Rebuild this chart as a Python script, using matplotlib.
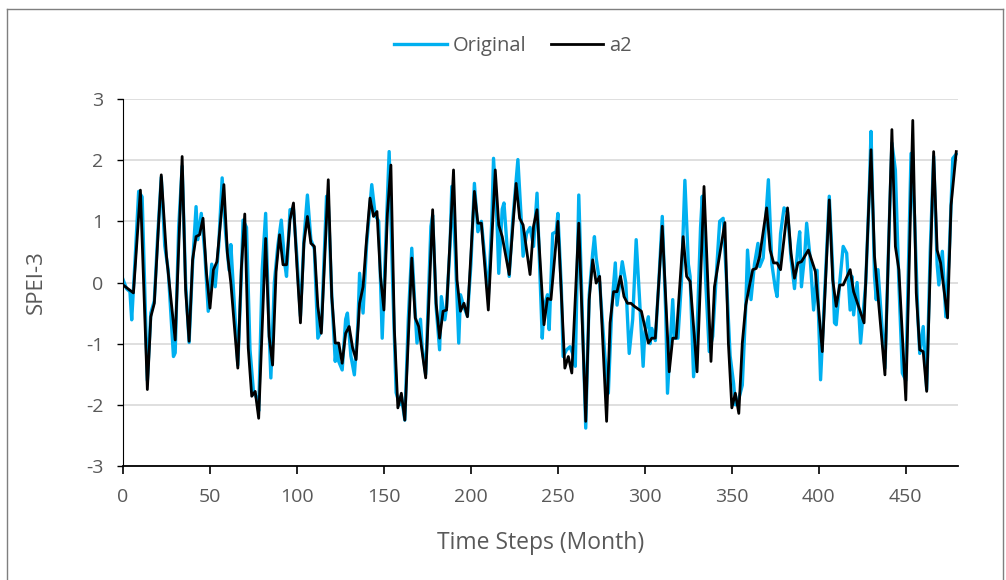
import numpy as np
import matplotlib
matplotlib.use("Agg")
import matplotlib.pyplot as plt
from matplotlib.lines import Line2D

plt.rcParams['font.family'] = ['Open Sans', 'DejaVu Sans']
plt.rcParams['axes.unicode_minus'] = False

# a2 (approximation) series
a2_month = [0, 6, 10, 14, 16, 18, 22, 25, 30, 34, 36, 38, 40, 42, 44, 46, 48, 50, 52, 54,
            58, 60, 62, 66, 68, 70, 72, 74, 76, 78, 82, 84, 86, 88, 90, 92, 94, 96, 98, 100,
            102, 104, 106, 108, 110, 112, 114, 118, 120, 122, 124, 126, 128, 130, 132, 134,
            136, 138, 140, 142, 144, 146, 148, 150, 152, 154, 156, 158, 160, 162, 166, 168,
            170, 174, 178, 180, 182, 184, 186, 190, 192, 194, 196, 198, 202, 204, 206, 210,
            214, 216, 218, 222, 226, 228, 230, 234, 236, 238, 242, 244, 246, 250, 254, 256,
            258, 262, 266, 268, 270, 272, 274, 278, 280, 282, 284, 286, 288, 290, 292, 294,
            298, 302, 304, 306, 310, 314, 316, 318, 322, 324, 326, 330, 334, 338, 340, 346,
            348, 350, 352, 354, 356, 358, 360, 362, 364, 366, 370, 372, 374, 376, 378, 382,
            384, 386, 388, 390, 394, 398, 402, 406, 408, 410, 412, 414, 418, 420, 426, 430,
            432, 438, 442, 444, 446, 450, 454, 456, 458, 460, 462, 466, 468, 470, 474, 476, 479]
a2_value = [-0.04, -0.17, 1.51, -1.75, -0.56, -0.34, 1.76, 0.43, -0.94, 2.06, -0.12, -0.96,
            0.37, 0.75, 0.78, 1.05, 0.15, -0.42, 0.21, 0.34, 1.60, 0.48, -0.01, -1.40, 0.21,
            1.12, -1.07, -1.86, -1.78, -2.22, 0.72, -0.88, -1.35, 0.18, 0.78, 0.29, 0.29, 1.02,
            1.30, 0.26, -0.66, 0.64, 1.08, 0.64, 0.59, -0.39, -0.83, 1.68, -0.23, -0.99, -0.99,
            -1.32, -0.83, -0.72, -1.07, -1.26, -0.34, -0.07, 0.70, 1.38, 1.08, 1.16, 0.10,
            -0.45, 1.13, 1.92, -0.77, -2.05, -1.81, -2.25, 0.40, -0.58, -0.72, -1.56, 1.19,
            -0.34, -0.91, -0.47, -0.45, 1.84, 0.04, -0.47, -0.34, -0.56, 1.49, 0.97, 0.97,
            -0.45, 1.84, 0.94, 0.75, 0.13, 1.62, 1.05, 0.94, 0.13, 0.92, 1.19, -0.69, -0.26,
            -0.28, 1.00, -1.40, -1.21, -1.48, 0.97, -2.27, -0.28, 0.37, -0.01, 0.10, -2.27,
            -0.66, -0.15, -0.15, 0.10, -0.23, -0.34, -0.34, -0.39, -0.47, -0.99, -0.91, -0.91,
            0.92, -1.46, -0.91, -0.91, 0.75, 0.10, 0.02, -1.46, 1.57, -1.29, -0.07, 0.98,
            -0.99, -2.05, -1.81, -2.14, -0.99, -0.37, -0.07, 0.21, 0.23, 0.43, 1.22, 0.53,
            0.32, 0.32, 0.21, 1.22, 0.48, 0.07, 0.32, 0.34, 0.53, 0.18, -1.13, 1.35, 0.04,
            -0.39, -0.04, -0.04, 0.21, -0.15, -0.66, 2.17, 0.43, -1.51, 2.50, 0.59, 0.21,
            -1.92, 2.65, -0.17, -1.10, -1.13, -1.78, 2.14, 0.53, 0.32, -0.58, 1.26, 2.14]

# original SPEI-3 series
orig_month = [0, 2, 4, 5, 7, 9, 11, 14, 16, 18, 20, 22, 24, 26, 29, 30, 32, 34, 36, 38,
              40, 42, 43, 45, 47, 49, 51, 53, 55, 57, 59, 61, 62, 66, 68, 69, 71, 73, 75, 77,
              78, 80, 82, 84, 85, 87, 89, 91, 93, 94, 96, 98, 100, 102, 104, 106, 108, 110,
              112, 114, 117, 118, 120, 122, 123, 124, 126, 128, 129, 131, 133, 135, 136, 138,
              140, 143, 145, 147, 149, 151, 153, 155, 157, 159, 160, 162, 164, 166, 168, 169,
              171, 172, 174, 177, 178, 180, 182, 183, 185, 186, 188, 189, 191, 193, 194, 196,
              198, 200, 202, 204, 206, 208, 210, 212, 213, 215, 216, 218, 219, 221, 222, 224,
              227, 229, 230, 232, 234, 236, 238, 241, 242, 244, 245, 247, 249, 250, 252, 253,
              255, 257, 259, 260, 262, 264, 266, 268, 270, 271, 272, 274, 277, 279, 281, 283,
              284, 286, 287, 289, 291, 293, 295, 297, 299, 300, 302, 303, 304, 306, 308, 310,
              312, 313, 316, 317, 319, 321, 323, 325, 326, 328, 330, 332, 333, 335, 337, 339,
              341, 343, 345, 347, 349, 351, 352, 354, 356, 358, 359, 361, 363, 365, 366, 368,
              371, 373, 375, 376, 378, 380, 382, 384, 386, 388, 389, 390, 392, 393, 395, 397,
              399, 401, 403, 406, 408, 409, 410, 412, 414, 416, 418, 419, 420, 422, 424, 427,
              429, 430, 432, 433, 434, 436, 438, 440, 442, 444, 446, 448, 450, 453, 455, 457,
              458, 460, 462, 464, 466, 468, 469, 471, 473, 475, 477, 479]
orig_value = [0.05, -0.10, -0.15, -0.61, 0.40, 1.49, 1.40, -1.60, -0.50, -0.30, 0.80, 1.72,
              0.60, 0.20, -1.21, -1.15, 0.90, 1.90, 0.00, -0.98, 0.30, 1.24, 0.70, 1.13, 0.50,
              -0.47, 0.30, -0.07, 0.60, 1.71, 0.80, 0.20, 0.62, -1.35, 0.10, 1.02, 0.90, -1.10,
              -1.78, -1.90, -2.10, 0.20, 1.13, -0.80, -1.56, 0.00, 0.60, 1.02, 0.30, 0.10, 1.19,
              1.20, 0.40, -0.55, 0.70, 1.43, 0.70, 0.55, -0.91, -0.78, 1.41, 1.30, -0.20, -1.29,
              -1.00, -1.29, -1.43, -0.60, -0.50, -1.20, -1.51, -0.70, 0.15, -0.50, 0.60, 1.60,
              1.10, 1.00, -0.91, 0.60, 2.14, 0.00, -1.80, -2.00, -1.85, -2.25, -0.60, 0.56,
              -0.50, -0.99, -0.60, -1.07, -1.50, 0.92, 1.10, -0.40, -1.10, -0.23, -0.61, -0.40,
              0.60, 1.57, 0.50, -0.99, -0.20, -0.40, -0.55, 0.30, 1.62, 0.83, 1.00, 0.40, -0.23,
              1.00, 2.03, 1.00, 0.15, 1.20, 1.30, 0.50, 0.10, 1.00, 2.01, 1.00, 0.43, 0.80, 0.90,
              0.59, 1.46, -0.91, -0.40, -0.20, -0.77, 0.80, 0.83, 1.13, -0.10, -1.21, -1.10,
              -1.05, -1.20, -1.37, 1.43, -0.50, -2.38, -0.20, 0.48, 0.75, 0.40, 0.00, -1.20,
              -1.81, -0.40, 0.32, -0.37, 0.10, 0.34, 0.00, -1.16, -0.60, 0.70, -0.30, -1.37,
              -0.80, -0.56, -1.00, -0.75, -0.95, 0.00, 1.08, -0.50, -1.81, -0.28, -0.91, -0.91,
              0.00, 1.67, 0.30, 0.10, -1.54, -0.80, 0.90, 1.41, 0.00, -1.13, -0.88, 0.10, 1.00,
              1.05, 0.00, -1.20, -1.65, -2.00, -1.90, -1.68, -0.40, 0.53, -0.28, 0.30, 0.64,
              0.26, 0.40, 1.68, 0.30, -0.10, -0.23, 0.80, 1.22, 1.15, 0.40, -0.10, 0.60, 0.83,
              -0.07, 0.50, 0.97, 0.40, -0.45, 0.20, -1.59, -0.40, 1.41, 0.20, -0.66, -0.69, 0.00,
              0.59, 0.48, -0.45, 0.10, -0.53, 0.00, -0.99, 0.00, 1.50, 2.47, 0.10, -0.28, 0.21,
              -0.60, -1.40, 0.50, 2.28, 1.84, 0.00, -1.48, -1.60, 2.11, 1.08, -0.60, -1.16,
              -0.72, -1.75, 0.50, 2.06, 0.30, -0.04, 0.51, -0.56, 0.50, 2.03, 2.10]

x_ticks = [0, 50, 100, 150, 200, 250, 300, 350, 400, 450]
y_ticks = [-3, -2, -1, 0, 1, 2, 3]

text_col = "#595959"

fig = plt.figure(figsize=(10.06, 5.80), dpi=100)
ax = fig.add_axes([123 / 1006, 114 / 580, 835 / 1006, 367 / 580])

ax.plot(orig_month, orig_value, color="#00B0F0", lw=2.4, label="Original", solid_joinstyle="round")
ax.plot(a2_month, a2_value, color="black", lw=2.0, label="a2", solid_joinstyle="round")

ax.set_xlim(0, 480)
ax.set_ylim(-3, 3)
ax.set_xticks(x_ticks)
ax.set_yticks(y_ticks)
ax.grid(axis="y", color="#d9d9d9", lw=1.2)
ax.set_axisbelow(True)
for s in ["top", "right"]:
    ax.spines[s].set_visible(False)
ax.spines["left"].set_color("black")
ax.spines["bottom"].set_color("black")
ax.spines["bottom"].set_linewidth(1.3)
ax.tick_params(axis="x", direction="out", length=6, width=1.2, colors="black",
               labelcolor=text_col, labelsize=14, pad=10)
ax.tick_params(axis="y", direction="out", length=4, width=1.0, colors="black",
               labelcolor=text_col, labelsize=14, pad=10)

ax.set_xlabel("Time Steps (Month)", color=text_col, fontsize=16.5, labelpad=18)
ax.set_ylabel("SPEI-3", color=text_col, fontsize=16, labelpad=28)

leg = fig.legend(loc="center", bbox_to_anchor=(0.51, 0.92), ncol=2, frameon=False,
                 fontsize=14.5, handlelength=2.6, columnspacing=1.2, handletextpad=0.3)
for t in leg.get_texts():
    t.set_color(text_col)

# outer chart frame
fw, fh = 1006, 580
fig.add_artist(Line2D([7 / fw, 1003 / fw], [1 - 9 / fh, 1 - 9 / fh], color="#7f7f7f", lw=1.0))
fig.add_artist(Line2D([7 / fw, 7 / fw], [0, 1 - 9 / fh], color="#7f7f7f", lw=1.0))
fig.add_artist(Line2D([1003 / fw, 1003 / fw], [0, 1 - 9 / fh], color="#7f7f7f", lw=1.0))

fig.savefig("out.png", dpi=100)
